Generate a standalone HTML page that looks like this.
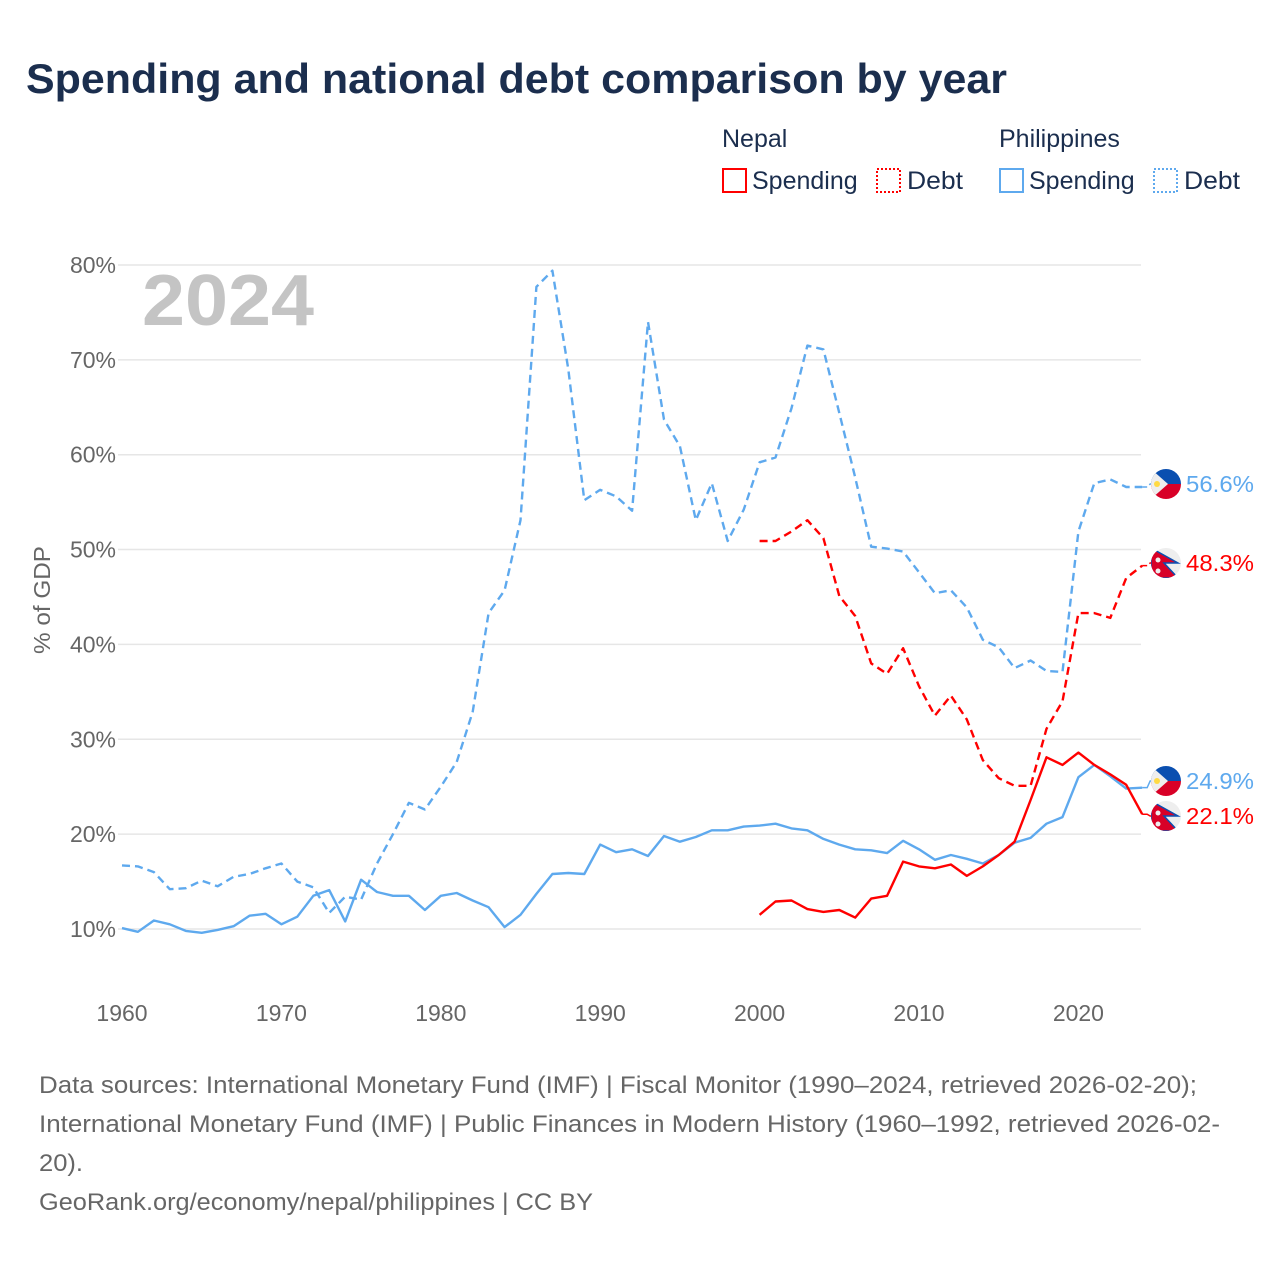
<!DOCTYPE html>
<html><head><meta charset="utf-8"><style>
body{margin:0;background:#fff;font-family:"Liberation Sans",sans-serif}
#wrap{position:relative;width:1280px;height:1280px;overflow:hidden}
svg text{font-family:"Liberation Sans",sans-serif}
</style></head><body>
<div id="wrap">
<svg id="chart" width="1280" height="1280">
<text x="26" y="93" font-size="42" font-weight="bold" fill="#1b2e4e" textLength="981" lengthAdjust="spacingAndGlyphs">Spending and national debt comparison by year</text>
<g font-size="25" fill="#1b2e4e">
<text x="722" y="147">Nepal</text>
<text x="999" y="147">Philippines</text>
<g><rect x="723" y="169" width="23" height="23" fill="none" stroke="#f00" stroke-width="2"/><text x="752" y="189">Spending</text></g>
<g><rect x="877" y="169" width="23" height="23" fill="none" stroke="#f00" stroke-width="2" stroke-dasharray="2,2"/><text x="907" y="189" textLength="56" lengthAdjust="spacingAndGlyphs">Debt</text></g>
<g><rect x="1000" y="169" width="23" height="23" fill="none" stroke="#5ea9ee" stroke-width="2"/><text x="1029" y="189">Spending</text></g>
<g><rect x="1154" y="169" width="23" height="23" fill="none" stroke="#5ea9ee" stroke-width="2" stroke-dasharray="2,2"/><text x="1184" y="189" textLength="56" lengthAdjust="spacingAndGlyphs">Debt</text></g>
</g>
<text x="142" y="325" font-size="72" font-weight="bold" fill="#c4c4c4" textLength="172" lengthAdjust="spacingAndGlyphs">2024</text>
<text transform="translate(50,600) rotate(-90)" text-anchor="middle" font-size="23" fill="#666" textLength="108" lengthAdjust="spacingAndGlyphs">% of GDP</text>
<g id="grid"></g><g id="series"></g><g id="ends"></g>
<g font-size="24" fill="#666">
<text x="39" y="1093" textLength="1158" lengthAdjust="spacingAndGlyphs">Data sources: International Monetary Fund (IMF) | Fiscal Monitor (1990–2024, retrieved 2026-02-20);</text>
<text x="39" y="1132" textLength="1181" lengthAdjust="spacingAndGlyphs">International Monetary Fund (IMF) | Public Finances in Modern History (1960–1992, retrieved 2026-02-</text>
<text x="39" y="1171" textLength="44" lengthAdjust="spacingAndGlyphs">20).</text>
<text x="39" y="1210" textLength="554" lengthAdjust="spacingAndGlyphs">GeoRank.org/economy/nepal/philippines | CC BY</text>
</g>
</svg></div>
<script>
const yTicks=[10,20,30,40,50,60,70,80];
const xTicks=[1960,1970,1980,1990,2000,2010,2020];
const phYears=[];for(let y=1960;y<=2024;y++)phYears.push(y);
const npYears=[];for(let y=2000;y<=2024;y++)npYears.push(y);
const phSpending=[10.1,9.7,10.9,10.5,9.8,9.6,9.9,10.3,11.4,11.6,10.5,11.3,13.5,14.1,10.8,15.2,13.9,13.5,13.5,12.0,13.5,13.8,13.0,12.3,10.2,11.5,13.7,15.8,15.9,15.8,18.9,18.1,18.4,17.7,19.8,19.2,19.7,20.4,20.4,20.8,20.9,21.1,20.6,20.4,19.5,18.9,18.4,18.3,18.0,19.3,18.4,17.3,17.8,17.4,16.9,17.8,19.1,19.6,21.1,21.8,26.0,27.3,26.1,24.8,24.9];
const phDebt=[16.7,16.6,16.0,14.2,14.3,15.1,14.5,15.5,15.8,16.4,16.9,15.0,14.4,11.7,13.4,13.1,16.9,20.0,23.3,22.6,25.0,27.6,32.9,43.3,45.7,53.1,77.7,79.4,69.0,55.2,56.3,55.6,54.1,74.0,63.7,60.9,53.1,57.0,50.9,54.2,59.2,59.7,64.9,71.5,71.1,64.4,57.6,50.3,50.1,49.8,47.6,45.4,45.7,43.9,40.5,39.7,37.5,38.3,37.2,37.1,51.9,57.0,57.4,56.6,56.6];
const npSpending=[11.5,12.9,13.0,12.1,11.8,12.0,11.2,13.2,13.5,17.1,16.6,16.4,16.8,15.6,16.6,17.8,19.2,23.6,28.1,27.3,28.6,27.3,26.3,25.2,22.1];
const npDebt=[50.9,50.9,51.9,53.1,51.2,45.1,43.0,38.0,36.9,39.6,35.6,32.5,34.6,32.1,27.8,25.9,25.1,25.1,31.1,34.0,43.3,43.3,42.8,47.0,48.3];
const X=y=>122+(y-1960)*15.94, Y=v=>929-(v-10)*9.486;
const NS='http://www.w3.org/2000/svg';
function mk(tag,attrs,parent){const e=document.createElementNS(NS,tag);for(const k in attrs)e.setAttribute(k,attrs[k]);parent.appendChild(e);return e;}
const grid=document.getElementById('grid');
yTicks.forEach(t=>{
 const l=mk('line',{x1:118,x2:1141,y1:Y(t),y2:Y(t),stroke:'#e6e6e6','stroke-width':1.5},grid);
 
 
 const tx=mk('text',{x:116,y:Y(t)+8,'text-anchor':'end','font-size':23,fill:'#666'},grid);
 tx.textContent=t+'%';
 
 
});
xTicks.forEach(t=>{
 const tx=mk('text',{x:X(t),y:1021,'text-anchor':'middle','font-size':23,fill:'#666'},grid);
 tx.textContent=t;
 
 
});
const ser=document.getElementById('series');
function line(years,vals,color,dash,name){
 const d=vals.map((v,i)=>(i?'L':'M')+X(years[i]).toFixed(1)+','+Y(v).toFixed(1)).join('');
 const p=mk('path',{d:d,fill:'none',stroke:color,'stroke-width':2.4,'stroke-linejoin':'round'},ser);
 if(dash)p.setAttribute('stroke-dasharray','8,5');
 
 
}
line(phYears,phDebt,'#5ea9ee',true,'philippines-debt-line');
line(phYears,phSpending,'#5ea9ee',false,'philippines-spending-line');
line(npYears,npDebt,'#f00',true,'nepal-debt-line');
line(npYears,npSpending,'#f00',false,'nepal-spending-line');
const ends=document.getElementById('ends');
function endLabel(val,ly,color,ph,name,dash){
 const x0=X(2024),y0=Y(val);
 const c=mk('path',{d:`M${x0},${y0}L${x0+5},${y0}L${x0+8},${ly}L1152,${ly}`,fill:'none',stroke:color,'stroke-width':1.5},ends);
 if(dash)c.setAttribute('stroke-dasharray','5,3');
 const g=mk('g',{},ends);
 
 
 const cx=1166;
 const cp=mk('clipPath',{id:'cp'+name},g);mk('circle',{cx:cx,cy:ly,r:15},cp);
 const f=mk('g',{'clip-path':'url(#cp'+name+')'},g);
 if(ph){
  mk('rect',{x:cx-15,y:ly-15,width:30,height:15,fill:'#0a4fb0'},f);
  mk('rect',{x:cx-15,y:ly,width:30,height:15,fill:'#d80027'},f);
  mk('path',{d:`M${cx-15},${ly-15}L${cx+2},${ly}L${cx-15},${ly+15}Z`,fill:'#eee'},f);
  mk('circle',{cx:cx-9,cy:ly,r:3,fill:'#ffda44'},f);
 }else{
  mk('rect',{x:cx-15,y:ly-15,width:30,height:30,fill:'#eee'},f);
  mk('path',{d:`M${cx-15},${ly-15}L${cx+12},${ly}L${cx-2},${ly}L${cx+12},${ly+15}L${cx-15},${ly+15}Z`,fill:'#d80027',stroke:'#0a4fb0','stroke-width':1.5},f);
  mk('circle',{cx:cx-8,cy:ly-3,r:2.5,fill:'#eee'},f);
  mk('circle',{cx:cx-8,cy:ly+8,r:2.5,fill:'#eee'},f);
 }
 const t=mk('text',{x:1186,y:ly+8,'font-size':23,fill:color,textLength:68,lengthAdjust:'spacingAndGlyphs'},g);
 t.textContent=val.toFixed(1)+'%';
}
endLabel(phDebt[phDebt.length-1],484,'#5ea9ee',true,'philippines-debt-end-label',true);
endLabel(npDebt[npDebt.length-1],563,'#f00',false,'nepal-debt-end-label',true);
endLabel(phSpending[phSpending.length-1],781,'#5ea9ee',true,'philippines-spending-end-label',false);
endLabel(npSpending[npSpending.length-1],816,'#f00',false,'nepal-spending-end-label',false);
</script>
</body></html>
